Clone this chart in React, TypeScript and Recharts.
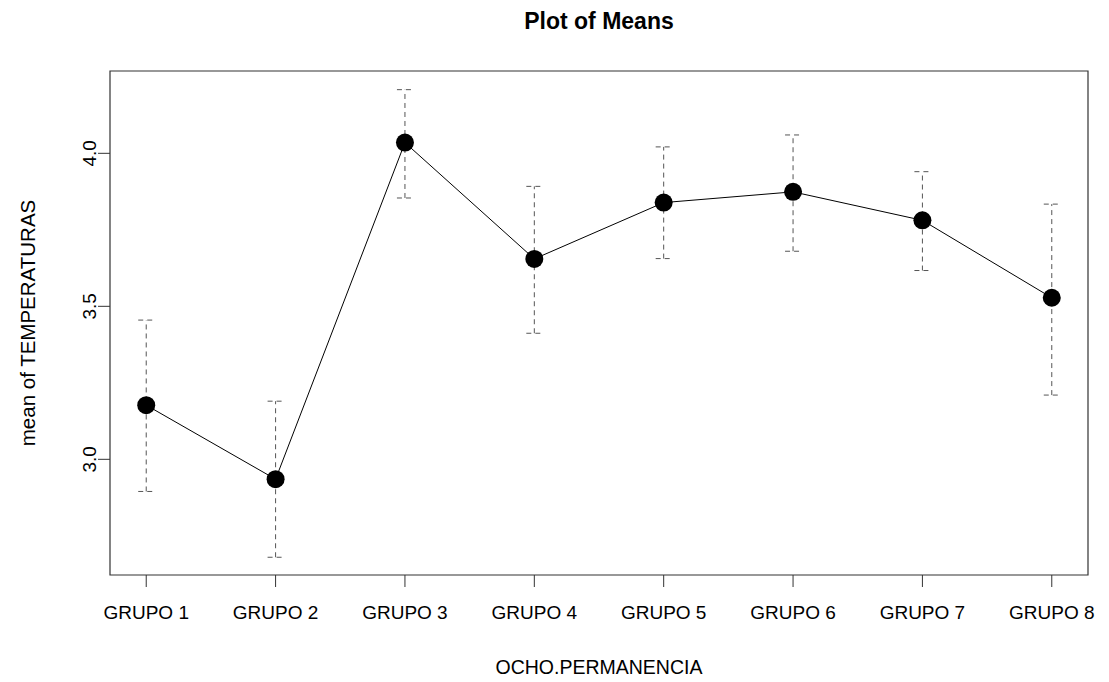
import { ErrorBar, Label, Line, LineChart, ReferenceArea, XAxis, YAxis } from "recharts";

const groups = ["GRUPO 1", "GRUPO 2", "GRUPO 3", "GRUPO 4", "GRUPO 5", "GRUPO 6", "GRUPO 7", "GRUPO 8"];
const means = [3.177, 2.935, 4.035, 3.655, 3.839, 3.874, 3.781, 3.528];
const upper = [3.455, 3.19, 4.208, 3.892, 4.021, 4.06, 3.94, 3.834];
const lower = [2.895, 2.68, 3.854, 3.412, 3.656, 3.68, 3.617, 3.21];
const xTicks = [1, 2, 3, 4, 5, 6, 7, 8];
const yTicks = [3.0, 3.5, 4.0];

const X_DOMAIN: [number, number] = [0.72, 8.28];
const Y_DOMAIN: [number, number] = [2.622, 4.269];
const FONT = "'Liberation Sans', Arial, sans-serif";

const data = groups.map((g, i) => ({
	x: i + 1,
	name: g,
	mean: means[i],
	err: [means[i] - lower[i], upper[i] - means[i]],
}));

const YTick = (props: any) => {
	const { x, y, payload } = props;
	return (
		<text
			x={x}
			y={y}
			transform={`rotate(-90, ${x}, ${y})`}
			textAnchor="middle"
			fontSize={19}
			fontFamily={FONT}
			fill="#000"
		>
			{Number(payload.value).toFixed(1)}
		</text>
	);
};

const XTick = (props: any) => {
	const { x, y, payload } = props;
	return (
		<text x={x} y={y + 28} textAnchor="middle" fontSize={19} fontFamily={FONT} fill="#000">
			{groups[payload.value - 1]}
		</text>
	);
};

export default function App() {
	return (
		<div style={{ position: "absolute", left: 0, top: 0, width: 1109, height: 682, background: "#fff" }}>
			<div
				style={{
					position: "absolute",
					left: 0,
					top: 8,
					width: 1198,
					textAlign: "center",
					fontFamily: FONT,
					fontWeight: "bold",
					fontSize: 23,
					color: "#000",
				}}
			>
				Plot of Means
			</div>
			<LineChart width={1109} height={682} data={data} margin={{ top: 71, right: 21, bottom: 0, left: 0 }}>
				<XAxis
					dataKey="x"
					type="number"
					domain={X_DOMAIN}
					ticks={xTicks}
					allowDataOverflow
					axisLine={false}
					tickLine={{ stroke: "#333" }}
					tickSize={12}
					tickMargin={4}
					tick={<XTick />}
					height={107}
				>
					<Label
						value="OCHO.PERMANENCIA"
						position="insideBottom"
						offset={8}
						style={{ fontFamily: FONT, fontSize: 19.5, fill: "#000" }}
					/>
				</XAxis>
				<YAxis
					type="number"
					domain={Y_DOMAIN}
					ticks={yTicks}
					allowDataOverflow
					axisLine={false}
					tickLine={{ stroke: "#333" }}
					tickSize={12}
					tickMargin={2}
					tick={<YTick />}
					width={110}
				>
					<Label
						value="mean of TEMPERATURAS"
						angle={-90}
						position="insideLeft"
						offset={28}
						style={{ fontFamily: FONT, fontSize: 20.5, fill: "#000", textAnchor: "middle" }}
					/>
				</YAxis>
				<ReferenceArea
					x1={X_DOMAIN[0]}
					x2={X_DOMAIN[1]}
					y1={Y_DOMAIN[0]}
					y2={Y_DOMAIN[1]}
					fill="none"
					stroke="#333"
					strokeWidth={1.2}
					ifOverflow="visible"
				/>
				<Line
					dataKey="mean"
					stroke="#000"
					strokeWidth={1}
					dot={{ r: 9, fill: "#000", stroke: "none" }}
					activeDot={false}
					isAnimationActive={false}
				>
					<ErrorBar dataKey="err" width={8} stroke="#555" strokeWidth={1} strokeDasharray="5 4" />
				</Line>
			</LineChart>
		</div>
	);
}
